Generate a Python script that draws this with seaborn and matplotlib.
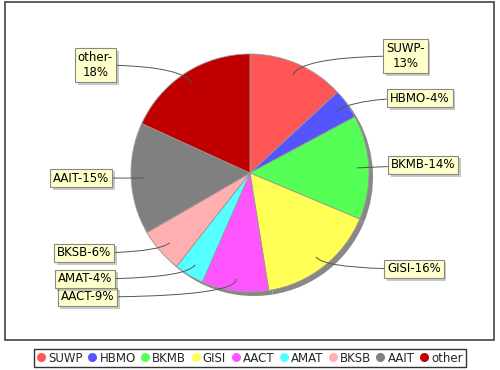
import numpy as np
import matplotlib
matplotlib.use("Agg")
import matplotlib.pyplot as plt
import matplotlib.patheffects as pe
from matplotlib.lines import Line2D
from matplotlib.patches import Rectangle
import seaborn as sns

# Data
names = ['SUWP', 'HBMO', 'BKMB', 'GISI', 'AACT', 'AMAT', 'BKSB', 'AAIT', 'other']
shares = [13, 4, 14, 16, 9, 4, 6, 15, 18]
label_texts = ['SUWP-\n13%', 'HBMO-4%', 'BKMB-14%', 'GISI-16%', 'AACT-9%',
               'AMAT-4%', 'BKSB-6%', 'AAIT-15%', 'other-\n18%']
colors = ['#FF5555', '#5555FF', '#55FF55', '#FFFF55', '#FF55FF',
          '#55FFFF', '#FFAFAF', '#808080', '#C00000']

# label box positions (pixels, from top-left) and alignment
label_px = [(386, 56), (390, 98), (391, 165), (387, 269), (114, 297),
            (112, 279), (111, 253), (109, 178), (113, 65)]
label_ha = ['left', 'left', 'left', 'left', 'right', 'right', 'right', 'right', 'right']

sns.set_theme(style="white")
plt.rcParams['font.family'] = ['DejaVu Sans']

W, H = 500, 370
fig = plt.figure(figsize=(5, 3.7), dpi=100)
fig.patch.set_facecolor('white')

# plot area border
fig.patches.append(Rectangle((5 / W, 1 - 340 / H), 489 / W, 338 / H,
                             transform=fig.transFigure, fill=False,
                             edgecolor='#444444', linewidth=1.2))

ax = fig.add_axes([0, 0, 1, 1])
cx, cy, R = 250, H - 173, 119
palette = sns.color_palette(colors)

# shadow
ax.pie(shares, colors=['#888888'] * len(shares), center=(cx + 4, cy - 4), radius=R,
       startangle=90, counterclock=False, wedgeprops=dict(linewidth=0))
wedges, _ = ax.pie(shares, colors=palette, center=(cx, cy), radius=R,
                   startangle=90, counterclock=False,
                   wedgeprops=dict(edgecolor='#9a9a9a', linewidth=0.6))

for w, txt, (px, py), ha in zip(wedges, label_texts, label_px, label_ha):
    mid = np.deg2rad((w.theta1 + w.theta2) / 2)
    ax_pt = (cx + 0.9 * R * np.cos(mid), cy + 0.9 * R * np.sin(mid))
    ang = np.rad2deg(mid) % 180
    if ang < 12 or ang > 168:
        cs = 'arc3,rad=0'
    else:
        cs = f'angle3,angleA=0,angleB={np.rad2deg(mid):.1f}'
    t = ax.annotate(txt, xy=ax_pt, xytext=(px, H - py), ha=ha, va='center',
                    fontsize=8.5, multialignment='center', color='black',
                    bbox=dict(boxstyle='square,pad=0.25', fc='#FFFFCC', ec='#888888', lw=0.8),
                    arrowprops=dict(arrowstyle='-', color='#555555', lw=0.7,
                                    connectionstyle=cs, shrinkA=0, shrinkB=0))
    t.get_bbox_patch().set_path_effects([pe.SimplePatchShadow(offset=(2, -2), alpha=0.3),
                                         pe.Normal()])

ax.set_xlim(0, W)
ax.set_ylim(0, H)
ax.set_aspect('equal')
ax.axis('off')

handles = [Line2D([], [], marker='o', linestyle='', markersize=6.5,
                  markerfacecolor=c, markeredgewidth=0) for c in colors]
leg = fig.legend(handles, names, loc='center', bbox_to_anchor=(0.5, 1 - 358 / H),
                 ncol=len(names), fontsize=8.5, frameon=True, fancybox=False,
                 handlelength=0.7, handletextpad=0.25, columnspacing=0.45,
                 borderpad=0.25, borderaxespad=0)
leg.get_frame().set_edgecolor('black')
leg.get_frame().set_linewidth(1)

fig.savefig('out.png', dpi=100)
